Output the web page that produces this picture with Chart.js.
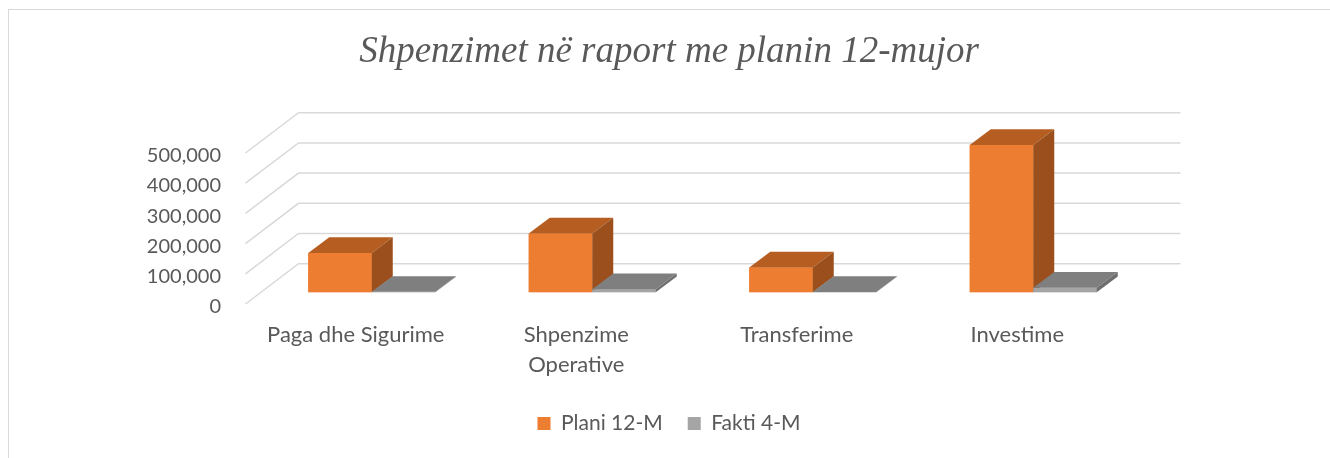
<!DOCTYPE html>
<html>
<head>
<meta charset="utf-8">
<script src="https://cdn.jsdelivr.net/npm/chart.js@4.4.1/dist/chart.umd.min.js"></script>
<style>
  html, body { margin: 0; padding: 0; background: #fff; overflow: hidden; }
  #wrap { position: relative; width: 1330px; height: 458px; }
  #frame { position: absolute; left: 8px; top: 9px; width: 1400px; height: 500px;
           border: 1px solid #d9d9d9; pointer-events: none; }
</style>
</head>
<body>
<div id="wrap">
  <canvas id="barChart" width="1330" height="458"></canvas>
  <div id="frame"></div>
</div>
<script>
// data
const categories = ['Paga dhe Sigurime', ['Shpenzime', 'Operative'], 'Transferime', 'Investime'];
const planValues = [130000, 195000, 82000, 488000];
const faktValues = [1500, 10000, 1000, 15000];
const seriesNames = ['Plani 12-M', 'Fakti 4-M'];
const yTicks = [0, 100000, 200000, 300000, 400000, 500000];

// faux 3d look (Excel style)
const shades = [
  { front: '#ED7D31', top: '#B65E22', side: '#9A4F1D' },
  { front: '#A5A5A5', top: '#7F7F7F', side: '#6E6E6E' }
];
const FRONT = { dx: -16, dy: 11.7 };  // floor front edge vs bar plane
const BACK = { dx: 37, dy: -28.6 };   // back wall vs bar plane
const DEPTH = { dx: 21, dy: -15.7 };  // bar depth

const depth3d = {
  id: 'depth3d',
  beforeDatasetsDraw(chart) {
    const { ctx, chartArea: a, scales: { y } } = chart;
    ctx.save();
    ctx.strokeStyle = '#d9d9d9';
    ctx.lineWidth = 1.5;
    y.ticks.forEach(t => {
      const py = y.getPixelForValue(t.value);
      ctx.beginPath();
      ctx.moveTo(a.left + FRONT.dx, py + FRONT.dy);
      ctx.lineTo(a.left + BACK.dx, py + BACK.dy);
      ctx.lineTo(a.right + BACK.dx, py + BACK.dy);
      ctx.stroke();
    });
    ctx.restore();
  },
  afterDatasetsDraw(chart) {
    const { ctx } = chart;
    const metas = chart.data.datasets.map((d, i) => chart.getDatasetMeta(i));
    ctx.save();
    categories.forEach((c, j) => {
      metas.forEach((m, i) => {
        const bar = m.data[j];
        const L = bar.x - bar.width / 2, R = bar.x + bar.width / 2;
        const T = bar.y, B = bar.base;
        const col = shades[i];
        ctx.fillStyle = col.front;
        ctx.fillRect(L, T, R - L, B - T);
        ctx.fillStyle = col.top;
        ctx.beginPath();
        ctx.moveTo(L, T);
        ctx.lineTo(R, T);
        ctx.lineTo(R + DEPTH.dx, T + DEPTH.dy);
        ctx.lineTo(L + DEPTH.dx, T + DEPTH.dy);
        ctx.closePath();
        ctx.fill();
        ctx.fillStyle = col.side;
        ctx.beginPath();
        ctx.moveTo(R, T);
        ctx.lineTo(R + DEPTH.dx, T + DEPTH.dy);
        ctx.lineTo(R + DEPTH.dx, B + DEPTH.dy);
        ctx.lineTo(R, B);
        ctx.closePath();
        ctx.fill();
      });
    });
    ctx.restore();
  }
};

new Chart(document.getElementById('barChart'), {
  type: 'bar',
  data: {
    labels: categories,
    datasets: [
      { label: seriesNames[0], data: planValues, backgroundColor: shades[0].front },
      { label: seriesNames[1], data: faktValues, backgroundColor: shades[1].front }
    ]
  },
  options: {
    responsive: false,
    animation: false,
    categoryPercentage: 0.576,
    barPercentage: 1,
    layout: { padding: { left: 8, right: 0, top: 0, bottom: 14 } },
    plugins: {
      title: {
        display: true,
        text: 'Shpenzimet në raport me planin 12-mujor',
        color: '#595959',
        font: { family: 'Liberation Serif', size: 37, style: 'italic', weight: 'normal' },
        padding: { top: 30, bottom: 66.9 }
      },
      legend: {
        position: 'bottom',
        labels: { boxWidth: 13, boxHeight: 13, padding: 25, color: '#595959',
                  font: { family: 'Lato', size: 21 } }
      },
      tooltip: { enabled: false }
    },
    scales: {
      x: {
        grid: { display: false, drawTicks: false },
        border: { display: false },
        ticks: { color: '#595959', font: { family: 'Lato', size: 22, lineHeight: 1.36 },
                 padding: 28, labelOffset: -16, maxRotation: 0, autoSkip: false },
        afterFit: s => { s.height = 95.7; }
      },
      y: {
        min: 0,
        max: 500000,
        grid: { display: false, drawTicks: false },
        border: { display: false },
        afterBuildTicks: s => { s.ticks = yTicks.map(v => ({ value: v })); },
        ticks: { color: '#595959', font: { family: 'Lato', size: 20 }, padding: 40.5,
                 labelOffset: 14.5, callback: v => v.toLocaleString('en-US') },
        afterFit: s => { s.width = 253.5; }
      },
      y2: {
        position: 'right',
        grid: { display: false, drawTicks: false },
        border: { display: false },
        ticks: { display: false },
        afterFit: s => { s.width = 186.5; }
      }
    }
  },
  plugins: [depth3d]
});
</script>
</body>
</html>
